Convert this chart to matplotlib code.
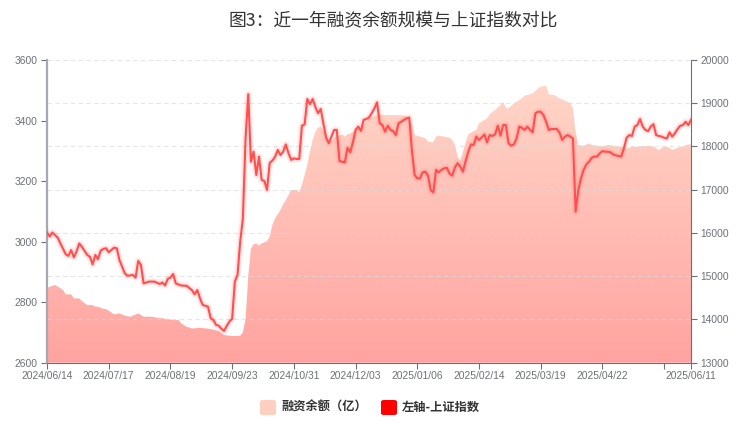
import matplotlib
matplotlib.use("Agg")
import matplotlib.pyplot as plt
import matplotlib.patheffects as pe
from matplotlib.colors import LinearSegmentedColormap
from matplotlib.patches import FancyBboxPatch
import numpy as np

plt.rcParams['font.family'] = ['Liberation Sans', 'Noto Sans CJK SC', 'DejaVu Sans']

# x axis: trading-day index from 2024/06/14 (0) to 2025/06/11 (240)
tick_days = [0, 23, 46, 69, 92, 115, 138, 161, 184, 207, 230, 240]
tick_labels = ['2024/06/14', '2024/07/17', '2024/08/19', '2024/09/23', '2024/10/31',
               '2024/12/03', '2025/01/06', '2025/02/14', '2025/03/19', '2025/04/22',
               '', '2025/06/11']

# 上证指数 (left axis)
sh_days = [0, 1, 2, 4, 5, 7, 8, 9, 10, 11, 12, 13, 15, 16, 17, 18, 19, 20, 21, 22,
           23, 25, 26, 27, 29, 30, 32, 33, 34, 35, 36, 38, 40, 42, 43, 44, 45, 46, 47, 48,
           50, 52, 54, 55, 56, 57, 58, 60, 61, 62, 63, 64, 65, 66, 67, 68, 69, 70, 71, 72,
           73, 74, 75, 76, 77, 78, 79, 80, 81, 82, 83, 84, 85, 86, 87, 88, 89, 90, 91, 92,
           93, 94, 95, 96, 97, 98, 99, 100, 101, 102, 103, 104, 105, 106, 107, 108, 109, 110, 111, 112,
           113, 114, 115, 116, 117, 118, 119, 120, 121, 122, 123, 124, 125, 126, 127, 128, 129, 130, 131, 132,
           133, 134, 135, 136, 137, 138, 139, 140, 141, 142, 143, 144, 145, 146, 147, 148, 149, 150, 151, 152,
           153, 154, 155, 156, 157, 158, 159, 160, 161, 162, 163, 164, 165, 166, 167, 168, 169, 170, 171, 172,
           173, 174, 175, 176, 177, 178, 179, 180, 181, 182, 183, 184, 185, 186, 187, 188, 190, 191, 192, 193,
           194, 195, 196, 197, 198, 199, 200, 201, 202, 203, 204, 205, 206, 207, 208, 209, 210, 211, 212, 213,
           214, 215, 216, 217, 218, 219, 220, 221, 222, 223, 224, 225, 226, 227, 228, 229, 230, 231, 232, 233,
           234, 235, 236, 237, 238, 239, 240]
sh_index = [3030, 3017, 3030, 3013, 2994, 2958, 2953, 2972, 2948, 2967, 2994, 2983, 2956, 2950, 2925, 2956, 2942, 2970, 2976, 2978,
            2965, 2980, 2978, 2939, 2895, 2887, 2890, 2881, 2936, 2923, 2862, 2868, 2868, 2860, 2865, 2855, 2877, 2881, 2893, 2862,
            2855, 2854, 2840, 2826, 2840, 2813, 2791, 2785, 2747, 2741, 2725, 2722, 2712, 2705, 2722, 2736, 2745, 2868, 2890, 3000,
            3077, 3341, 3487, 3264, 3297, 3220, 3281, 3204, 3200, 3171, 3260, 3268, 3280, 3303, 3286, 3297, 3321, 3292, 3270, 3275,
            3273, 3273, 3383, 3387, 3471, 3454, 3471, 3445, 3424, 3438, 3390, 3345, 3325, 3347, 3369, 3369, 3266, 3264, 3262, 3310,
            3295, 3328, 3369, 3380, 3366, 3402, 3405, 3410, 3424, 3440, 3460, 3391, 3385, 3363, 3383, 3369, 3365, 3352, 3391, 3396,
            3402, 3407, 3410, 3300, 3220, 3209, 3209, 3229, 3231, 3218, 3170, 3163, 3237, 3229, 3237, 3242, 3244, 3225, 3218, 3245,
            3259, 3248, 3231, 3266, 3297, 3321, 3319, 3347, 3336, 3344, 3354, 3328, 3352, 3349, 3354, 3383, 3350, 3385, 3385, 3325,
            3317, 3321, 3341, 3380, 3376, 3369, 3380, 3369, 3361, 3424, 3429, 3429, 3418, 3396, 3369, 3372, 3372, 3360, 3336, 3347,
            3352, 3347, 3341, 3099, 3170, 3209, 3237, 3255, 3264, 3277, 3281, 3281, 3292, 3299, 3297, 3297, 3295, 3288, 3285, 3283,
            3281, 3308, 3343, 3352, 3349, 3380, 3385, 3405, 3380, 3369, 3365, 3380, 3388, 3352, 3349, 3347, 3343, 3341, 3361, 3347,
            3358, 3372, 3383, 3385, 3396, 3385, 3402]

# 融资余额（亿） (right axis)
margin_days = [0, 1, 3, 4, 6, 7, 9, 10, 12, 13, 15, 17, 18, 19, 21, 22, 24, 25, 27, 29,
               31, 32, 34, 36, 37, 39, 41, 43, 45, 47, 49, 50, 52, 54, 55, 57, 59, 61, 64, 66,
               68, 70, 72, 73, 74, 75, 76, 77, 78, 79, 80, 81, 82, 83, 84, 85, 86, 87, 88, 89,
               90, 91, 92, 93, 94, 95, 96, 97, 98, 99, 100, 101, 102, 103, 104, 105, 106, 108, 109, 110,
               111, 112, 114, 115, 117, 118, 120, 124, 126, 131, 134, 136, 137, 139, 141, 142, 144, 145, 146, 148,
               150, 151, 152, 153, 154, 155, 156, 157, 159, 160, 161, 163, 164, 165, 167, 169, 170, 171, 172, 174,
               175, 177, 178, 180, 181, 183, 184, 186, 187, 189, 191, 194, 195, 196, 197, 198, 200, 202, 203, 205,
               207, 209, 211, 212, 214, 216, 218, 221, 224, 226, 228, 230, 232, 233, 235, 237, 238, 240]
margin_bal = [14719, 14757, 14796, 14760, 14680, 14580, 14580, 14487, 14487, 14426, 14333, 14333, 14295, 14295, 14241, 14241, 14163, 14117, 14140, 14086,
              14063, 14086, 14140, 14063, 14063, 14063, 14040, 14025, 14009, 13986, 13986, 13909, 13832, 13794, 13794, 13809, 13794, 13778, 13732, 13639,
              13624, 13616, 13624, 13700, 14000, 15000, 15640, 15740, 15760, 15706, 15760, 15783, 15810, 15914, 16184, 16338, 16430, 16530, 16662, 16762,
              16878, 16993, 16993, 16993, 16939, 17108, 17340, 17571, 17880, 18150, 18330, 18435, 18458, 18358, 18227, 18126, 18126, 18265, 18250, 18281,
              18227, 18281, 18327, 18381, 18435, 18497, 18650, 18743, 18728, 18728, 18705, 18535, 18265, 18227, 18188, 18111, 18096, 18227, 18250, 18227,
              18204, 18150, 18049, 17760, 17680, 17880, 18096, 18281, 18358, 18381, 18535, 18612, 18650, 18743, 18844, 18959, 19036, 18897, 18882, 18998,
              19036, 19113, 19175, 19206, 19229, 19345, 19383, 19406, 19206, 19190, 19113, 19036, 18998, 18882, 18342, 18034, 18018, 18072, 18034, 18018,
              17995, 18034, 18018, 17995, 17995, 17941, 17995, 17995, 18018, 17995, 17918, 17995, 17972, 17918, 17972, 17995, 18034, 18049]

axis_grey = '#6E7079'

fig = plt.figure(figsize=(7.48, 4.26), dpi=100)
ax = fig.add_axes([47 / 748, 1 - 362.7 / 426, 644 / 748, 302.7 / 426])
ax2 = ax.twinx()
ax.set_zorder(ax2.get_zorder() + 1)
ax.patch.set_visible(False)

# gradient filled area on the right axis
poly = ax2.fill_between(margin_days, margin_bal, 13000, facecolor='none', edgecolor='none')
cmap = LinearSegmentedColormap.from_list('area', ['#FFA3A0', '#FFD6C8'])
grad = np.linspace(0, 1, 256).reshape(-1, 1)
img = ax2.imshow(grad, cmap=cmap, aspect='auto', origin='lower',
                 extent=[0, 240, 13000, max(margin_bal)], zorder=1)
img.set_clip_path(poly.get_paths()[0], transform=ax2.transData)

ax2.set_ylim(13000, 20000)
ax2.set_yticks(np.arange(13000, 20001, 1000))
ax2.grid(axis='y', color='#DCDCDC', linestyle=(0, (4, 3)), linewidth=0.8, alpha=0.7)
ax2.set_axisbelow(False)

# 上证指数 line with a soft glow
ax.plot(sh_days, sh_index, color='#FF4F4F', linewidth=1.5, zorder=5,
        path_effects=[pe.Stroke(linewidth=5.5, foreground=(1, 0.4, 0.4, 0.08)),
                      pe.Stroke(linewidth=3.5, foreground=(1, 0.4, 0.4, 0.15)),
                      pe.Normal()])
ax.set_ylim(2600, 3600)
ax.set_yticks(np.arange(2600, 3601, 200))
ax.set_xlim(0, 240)
ax.set_xticks(tick_days)
ax.set_xticklabels(tick_labels)

for a in (ax, ax2):
    a.spines['top'].set_visible(False)
    a.tick_params(colors=axis_grey, labelsize=7.4, length=4, width=0.8)
    a.tick_params(axis='y', labelcolor=axis_grey)
ax.spines['left'].set_color('#A8A8B4')
ax.spines['left'].set_linewidth(1.6)
ax.spines['right'].set_visible(False)
ax.spines['bottom'].set_color(axis_grey)
ax2.spines['left'].set_visible(False)
ax2.spines['bottom'].set_visible(False)
ax2.spines['right'].set_color(axis_grey)
ax2.spines['right'].set_linewidth(0.8)
ax.tick_params(axis='x', pad=2)
ax.tick_params(axis='y', pad=3)
ax2.tick_params(axis='y', pad=3)

# title
fig.text(393 / 748, 1 - 21 / 426, '图3：近一年融资余额规模与上证指数对比',
         ha='center', va='center', fontsize=12.8, color='#333333',
         family=['Noto Sans CJK SC', 'DejaVu Sans'])

# legend
legend_items = [('融资余额（亿）', '#FFD0C0', 260), ('左轴-上证指数', '#FF0000', 381)]
for label, color, x0 in legend_items:
    fig.patches.append(FancyBboxPatch((x0 / 748, 1 - 415 / 426), 16 / 748, 15 / 426,
                                      boxstyle='round,pad=0,rounding_size=0.004',
                                      transform=fig.transFigure, facecolor=color,
                                      edgecolor='none'))
    fig.text((x0 + 21) / 748, 1 - 407.5 / 426, label, ha='left', va='center',
             fontsize=8.8, fontweight='bold', color='#333333',
             family=['Noto Sans CJK SC', 'DejaVu Sans'])

fig.savefig('out.png', dpi=100)
